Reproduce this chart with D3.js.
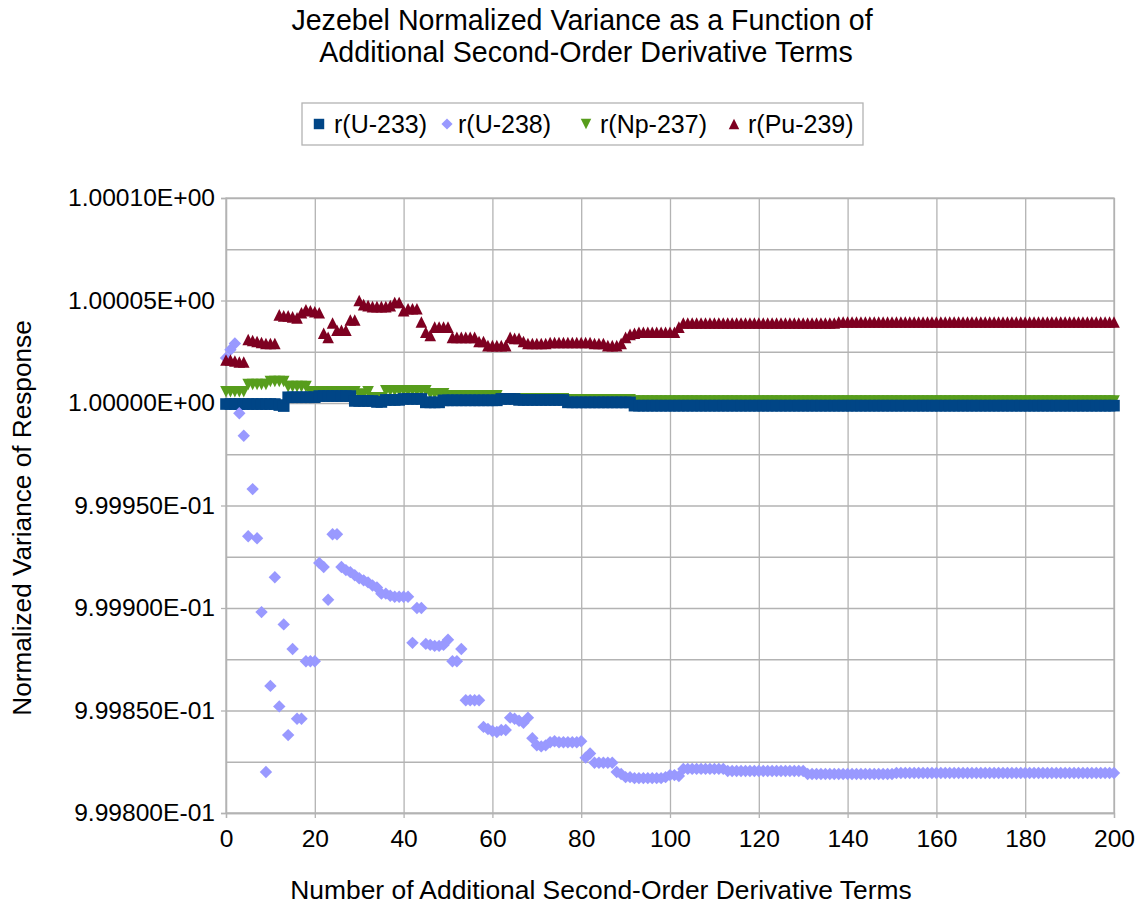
<!DOCTYPE html>
<html>
<head>
<meta charset="utf-8">
<script src="https://cdn.jsdelivr.net/npm/d3@7"></script>
<style>
  body { margin: 0; background: #fff; }
  text { font-family: "Liberation Sans", Arial, sans-serif; fill: #000; }
</style>
</head>
<body>
<svg id="chart" width="1141" height="909"></svg>
<script>

// Number of additional second-order derivative terms (x categories)
var terms = d3.range(0, 201);

// Normalized variance minus 1, in units of 1e-6
var u233 = [
  -0.5, -0.5, -0.5, -0.5, -0.5, -0.5, -0.5, -0.5, -0.5, -0.5,
  -0.5, -0.5, -1, -1.5, 2.8, 2.8, 2.8, 2.8, 2.8, 2.8,
  2.8, 3.4, 3.4, 3.4, 3.4, 3.4, 3.4, 3.4, 3.4, 1,
  1, 1, 1, 1, 0.5, 0.5, 1.5, 1.5, 1.5, 1.5,
  2, 2, 2, 2, 2, 0.3, 0.3, 0.3, 0.3, 1.3,
  1.3, 1.3, 1.3, 1.3, 1.3, 1.3, 1.3, 1.3, 1.3, 1.3,
  1.3, 1.3, 2, 2, 2, 2, 1.5, 1.5, 1.5, 1.5,
  1.5, 1.5, 1.5, 1.5, 1.5, 1.5, 1.5, 0.3, 0.3, 0.3,
  0.3, 0.3, 0.3, 0.3, 0.3, 0.3, 0.3, 0.3, 0.3, 0.3,
  0.3, 0.3, -1.3, -1.3, -1.3, -1.3, -1.3, -1.3, -1.3, -1.3,
  -1.3, -1.3, -1.3, -1.3, -1.3, -1.3, -1.3, -1.3, -1.3, -1.3,
  -1.3, -1.3, -1.3, -1.3, -1.3, -1.3, -1.3, -1.3, -1.3, -1.3,
  -1.3, -1.3, -1.3, -1.3, -1.3, -1.3, -1.3, -1.3, -1.3, -1.3,
  -1.3, -1.3, -1.3, -1.3, -1.3, -1.3, -1.3, -1.3, -1.3, -1.3,
  -1.3, -1.3, -1.3, -1.3, -1.3, -1.3, -1.3, -1.3, -1.3, -1.3,
  -1.3, -1.3, -1.3, -1.3, -1.3, -1.3, -1.3, -1.3, -1.3, -1.3,
  -1.3, -1.3, -1.3, -1.3, -1.3, -1.3, -1.3, -1.3, -1.3, -1.3,
  -1.3, -1.3, -1.3, -1.3, -1.3, -1.3, -1.3, -1.3, -1.3, -1.3,
  -1.3, -1.3, -1.3, -1.3, -1.3, -1.3, -1.3, -1.3, -1.3, -1.3,
  -1.3, -1.3, -1.3, -1.3, -1.3, -1.3, -1.3, -1.3, -1.3, -1.3,
  -1.3
];

var u238 = [
  22, 26, 29, -5, -16, -65, -42, -66, -102, -180,
  -138, -85, -148, -108, -162, -120, -154, -154, -126, -126,
  -126, -78, -80, -96, -64, -64, -80, -81.5, -82.5, -84,
  -85.5, -86.5, -87.5, -89, -90, -93, -93, -94, -94.5, -94.5,
  -94.5, -94.5, -117, -100, -100, -117.5, -118, -118.5, -118.5, -118,
  -115.5, -126, -126, -120, -145, -145, -145, -145, -158, -159,
  -160, -160.5, -159.5, -159.5, -153.5, -154, -155, -156, -153.5, -163.5,
  -167, -167.5, -167, -165.5, -165, -165.5, -165.5, -165.5, -165.5, -165.5,
  -165, -173, -171, -175.5, -175.5, -175.5, -175.5, -175.5, -180, -181,
  -182.5, -182.5, -183, -183, -183, -183, -183, -183, -183, -182.5,
  -181.5, -181.5, -182, -178.5, -178.5, -178.5, -178.5, -178.5, -178.5, -178.5,
  -178.5, -178.5, -178.5, -179.5, -179.5, -179.5, -179.5, -179.5, -179.5, -179.5,
  -179.5, -179.5, -179.5, -179.5, -179.5, -179.5, -179.5, -179.5, -179.5, -179.5,
  -179.5, -181, -181, -181, -181, -181, -181, -181, -181, -181,
  -181, -181, -181, -181, -181, -181, -181, -181, -181, -181,
  -181, -180.5, -180.5, -180.5, -180.5, -180.5, -180.5, -180.5, -180.5, -180.5,
  -180.5, -180.5, -180.5, -180.5, -180.5, -180.5, -180.5, -180.5, -180.5, -180.5,
  -180.5, -180.5, -180.5, -180.5, -180.5, -180.5, -180.5, -180.5, -180.5, -180.5,
  -180.5, -180.5, -180.5, -180.5, -180.5, -180.5, -180.5, -180.5, -180.5, -180.5,
  -180.5, -180.5, -180.5, -180.5, -180.5, -180.5, -180.5, -180.5, -180.5, -180.5,
  -180.5
];

var np237 = [
  5.5, 5.5, 5.5, 5.5, 5.5, 9, 9, 9, 9, 9,
  10.5, 10.5, 10.5, 10.5, 8, 8, 8, 8, 8, 5.5,
  5.5, 5.5, 5.5, 5.5, 5.5, 5.5, 5.5, 5.5, 5.5, 5.5,
  4.2, 4.2, 5.5, 2.5, 2.5, 2.5, 6, 6, 6, 6,
  6, 6, 6, 6, 6, 6, 4.5, 4.5, 4.5, 4.5,
  3.5, 3.5, 3.5, 3.5, 3.5, 3.5, 3.5, 3.5, 3.5, 3.5,
  3.5, 3.5, 2, 2, 2, 2, 2, 2, 2, 2,
  2, 2, 2, 2, 2, 2, 2, 1.5, 1.5, 1.5,
  1.5, 1.5, 1.5, 1.5, 1.5, 1.5, 1.5, 1.5, 1.5, 1.5,
  1.5, 1.5, 1, 1, 1, 1, 1, 1, 1, 1,
  1, 1, 1, 1, 1, 1, 1, 1, 1, 1,
  1, 1, 1, 1, 1, 1, 1, 1, 1, 1,
  1, 1, 1, 1, 1, 1, 1, 1, 1, 1,
  1, 1, 1, 1, 1, 1, 1, 1, 1, 1,
  1, 1, 1, 1, 1, 1, 1, 1, 1, 1,
  1, 1, 1, 1, 1, 1, 1, 1, 1, 1,
  1, 1, 1, 1, 1, 1, 1, 1, 1, 1,
  1, 1, 1, 1, 1, 1, 1, 1, 1, 1,
  1, 1, 1, 1, 1, 1, 1, 1, 1, 1,
  1, 1, 1, 1, 1, 1, 1, 1, 1, 1,
  1
];

var pu239 = [
  21, 21, 20.5, 20, 20, 31, 30.5, 30, 29.5, 29,
  29, 29, 43, 42.5, 42.5, 42, 41.5, 44, 45.5, 45,
  44.5, 44, 34, 32, 39, 35.5, 35.5, 35.5, 40.5, 40.5,
  50, 48, 47.5, 47, 47, 47, 47, 47.5, 49, 49,
  45, 46, 46, 46, 39.5, 34.5, 33, 37, 37, 37,
  37, 32, 32, 32, 32, 32, 32, 30, 30, 28,
  28, 28, 28, 28, 32, 31.5, 31.5, 30, 29, 29,
  29, 29, 29, 29.5, 29.5, 29.5, 29.5, 29.5, 29.5, 29.5,
  29.5, 29.5, 29.5, 29, 29, 29, 28, 28, 28, 29,
  32, 33.5, 34, 34.5, 34.5, 34.5, 34.5, 34.5, 34.5, 34.5,
  34.5, 34.5, 37, 39, 39, 39, 39, 39, 39, 39,
  39, 39, 39, 39, 39, 39, 39, 39, 39, 39,
  39, 39, 39, 39, 39, 39, 39, 39, 39, 39,
  39, 39, 39, 39, 39, 39, 39, 39, 39.5, 39.5,
  39.5, 39.5, 39.5, 39.5, 39.5, 39.5, 39.5, 39.5, 39.5, 39.5,
  39.5, 39.5, 39.5, 39.5, 39.5, 39.5, 39.5, 39.5, 39.5, 39.5,
  39.5, 39.5, 39.5, 39.5, 39.5, 39.5, 39.5, 39.5, 39.5, 39.5,
  39.5, 39.5, 39.5, 39.5, 39.5, 39.5, 39.5, 39.5, 39.5, 39.5,
  39.5, 39.5, 39.5, 39.5, 39.5, 39.5, 39.5, 39.5, 39.5, 39.5,
  39.5, 39.5, 39.5, 39.5, 39.5, 39.5, 39.5, 39.5, 39.5, 39.5,
  39.5
];

var seriesNames = ["r(U-233)", "r(U-238)", "r(Np-237)", "r(Pu-239)"];

// Axis ticks and labels
var xTicks = [0, 20, 40, 60, 80, 100, 120, 140, 160, 180, 200];
var yTicks = [0.99980, 0.99985, 0.99990, 0.99995, 1.00000, 1.00005, 1.00010];
var yTickLabels = ["9.99800E-01", "9.99850E-01", "9.99900E-01", "9.99950E-01",
                   "1.00000E+00", "1.00005E+00", "1.00010E+00"];
var yMinorTicks = [0.999825, 0.999875, 0.999925, 0.999975, 1.000025, 1.000075];

// Series styles, drawn in this order (green first, squares over it)
var series = [
  { name: seriesNames[2], data: np237, color: "#579d1c", shape: "M-5.8,-5.8L5.8,-5.8L0,5.8Z" },
  { name: seriesNames[0], data: u233,  color: "#004586", shape: "M-5.8,-5.8H5.8V5.8H-5.8Z" },
  { name: seriesNames[1], data: u238,  color: "#9999ff", shape: "M0,-6.2L6.2,0L0,6.2L-6.2,0Z" },
  { name: seriesNames[3], data: pu239, color: "#7e0021", shape: "M0,-5.8L5.8,5.8L-5.8,5.8Z" }
];

var legendOrder = [1, 2, 0, 3];
var gridColor = "#b3b3b3";

var plot = { left: 226, top: 198, width: 888, height: 615 };

var svg = d3.select("#chart");

var x = d3.scaleLinear()
    .domain([0, 200])
    .range([0, plot.width]);

var y = d3.scaleLinear()
    .domain([0.99980, 1.00010])
    .range([plot.height, 0]);

var g = svg.append("g")
    .attr("transform", "translate(" + plot.left + "," + plot.top + ")");

// Grid lines
g.append("g")
    .attr("class", "grid")
    .call(d3.axisLeft(y).tickValues(yTicks.concat(yMinorTicks)).tickSize(-plot.width).tickFormat(""));

g.append("g")
    .attr("class", "grid")
    .call(d3.axisBottom(x).tickValues(xTicks).tickSize(plot.height).tickFormat(""));

g.selectAll(".grid .domain").remove();
g.selectAll(".grid line")
    .attr("stroke", gridColor)
    .attr("stroke-width", 1.3);

// Plot area frame
g.append("rect")
    .attr("width", plot.width)
    .attr("height", plot.height)
    .attr("fill", "none")
    .attr("stroke", gridColor)
    .attr("stroke-width", 1.3);

// Axes
var yAxis = g.append("g")
    .call(d3.axisLeft(y)
        .tickValues(yTicks)
        .tickSize(5)
        .tickPadding(6)
        .tickFormat(function(d, i) { return yTickLabels[i]; }));

var xAxis = g.append("g")
    .attr("transform", "translate(0," + plot.height + ")")
    .call(d3.axisBottom(x)
        .tickValues(xTicks)
        .tickSize(5)
        .tickPadding(12));

[yAxis, xAxis].forEach(function(ax) {
    ax.select(".domain").attr("stroke", gridColor).attr("stroke-width", 1.3);
    ax.selectAll(".tick line").attr("stroke", gridColor).attr("stroke-width", 1.3);
    ax.selectAll(".tick text")
        .attr("fill", "#000")
        .style("font-family", '"Liberation Sans", Arial, sans-serif')
        .style("font-size", "24.6px");
});

// Markers
series.forEach(function(s) {
    g.append("g")
        .selectAll("path")
        .data(s.data)
        .enter().append("path")
            .attr("d", s.shape)
            .attr("fill", s.color)
            .attr("transform", function(d, i) {
                return "translate(" + x(terms[i]) + "," + y(1 + d * 1e-6) + ")";
            });
});

// Title
svg.append("text")
    .attr("x", 582)
    .attr("y", 30)
    .attr("text-anchor", "middle")
    .style("font-size", "28.6px")
    .text("Jezebel Normalized Variance as a Function of");

svg.append("text")
    .attr("x", 586)
    .attr("y", 62)
    .attr("text-anchor", "middle")
    .style("font-size", "28.6px")
    .text("Additional Second-Order Derivative Terms");

// Axis titles
svg.append("text")
    .attr("x", 601)
    .attr("y", 899)
    .attr("text-anchor", "middle")
    .style("font-size", "26.4px")
    .text("Number of Additional Second-Order Derivative Terms");

svg.append("text")
    .attr("transform", "translate(31,518) rotate(-90)")
    .attr("text-anchor", "middle")
    .style("font-size", "26.2px")
    .text("Normalized Variance of Response");

// Legend
svg.append("rect")
    .attr("x", 302)
    .attr("y", 103)
    .attr("width", 561)
    .attr("height", 42)
    .attr("fill", "#fff")
    .attr("stroke", gridColor)
    .attr("stroke-width", 1.3);

var legendSymbolX = [319, 447, 586, 734];
var legendTextX = [334, 458, 600, 748];

legendOrder.forEach(function(si, k) {
    var s = series[si];
    svg.append("path")
        .attr("d", s.shape)
        .attr("fill", s.color)
        .attr("transform", "translate(" + legendSymbolX[k] + ",124) scale(0.9)");
    svg.append("text")
        .attr("x", legendTextX[k])
        .attr("y", 133)
        .style("font-size", "25px")
        .text(s.name);
});

</script>
</body>
</html>
